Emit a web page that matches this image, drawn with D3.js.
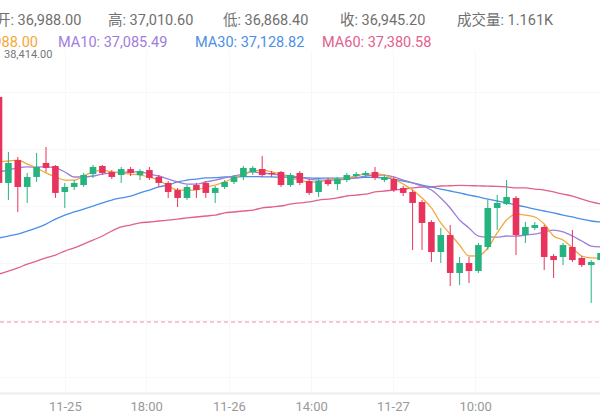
<!DOCTYPE html>
<html><head><meta charset="utf-8">
<script src="https://cdn.jsdelivr.net/npm/d3@7"></script>
<style>html,body{margin:0;padding:0;background:#fff;overflow:hidden}svg{display:block}</style>
</head><body><svg id="c" width="600" height="420"></svg>
<script>
// ---- data (price values) ----
const opens  = [38165,37546,37711,37517,37589,37690,37668,37481,37517,37531,37610,37668,37625,37603,37646,37603,37639,37589,37546,37495,37438,37531,37546,37474,37517,37553,37589,37625,37646,37618,37625,37531,37618,37560,37481,37567,37538,37567,37596,37603,37625,37567,37574,37510,37481,37409,37265,37049,37171,36898,36970,36912,37085,37366,37394,37438,37171,37222,37229,37020,37013,37085,37006,36955,36991];
const highs  = [38414,37769,37733,37618,37762,37805,37675,37546,37567,37618,37675,37675,37639,37661,37661,37646,37661,37603,37560,37510,37531,37546,37560,37524,37567,37603,37668,37668,37740,37632,37632,37618,37632,37574,37574,37582,37589,37618,37625,37632,37661,37603,37589,37524,37495,37423,37279,37222,37243,37013,37013,37114,37423,37459,37567,37452,37265,37265,37243,37034,37114,37207,37020,36991,37063];
const lows   = [37495,37423,37337,37402,37553,37625,37438,37366,37495,37517,37582,37603,37574,37546,37596,37567,37567,37517,37438,37373,37423,37438,37438,37402,37502,37538,37567,37603,37589,37589,37517,37517,37531,37459,37445,37524,37495,37552,37582,37589,37567,37553,37481,37452,37063,37063,36977,36970,36804,36811,36826,36898,37063,37207,37387,37027,37114,37207,36919,36862,36955,36977,36941,36682,36977];
const closes = [37546,37690,37517,37589,37661,37654,37474,37517,37546,37603,37661,37618,37589,37646,37618,37632,37582,37546,37481,37438,37517,37495,37474,37510,37553,37589,37654,37654,37603,37610,37531,37603,37546,37474,37560,37538,37574,37603,37610,37618,37582,37589,37495,37474,37402,37258,37049,37171,36898,36970,36912,37099,37366,37402,37445,37171,37229,37243,37013,36991,37099,36991,36955,36977,37042];
const ma5  = [37697,37704,37711,37682,37654,37618,37589,37567,37566,37596,37625,37639,37625,37618,37610,37603,37589,37567,37524,37495,37494,37496,37517,37531,37553,37582,37610,37632,37639,37625,37610,37582,37567,37553,37552,37567,37574,37582,37596,37610,37611,37603,37574,37538,37495,37438,37366,37258,37178,37099,37020,37021,37078,37186,37279,37322,37315,37301,37250,37164,37135,37078,37020,37006,37005];
const ma10 = [37625,37639,37654,37661,37660,37662,37654,37625,37589,37589,37596,37610,37618,37625,37624,37626,37610,37596,37574,37553,37538,37538,37553,37567,37582,37596,37610,37625,37618,37610,37603,37596,37589,37574,37567,37566,37568,37574,37582,37596,37603,37602,37589,37567,37546,37524,37495,37438,37366,37279,37222,37164,37157,37156,37164,37163,37171,37178,37193,37207,37193,37164,37128,37092,37085];
const ma30 = [37150,37164,37178,37200,37222,37250,37286,37315,37337,37358,37380,37402,37423,37438,37452,37474,37495,37517,37531,37553,37567,37574,37582,37584,37589,37590,37591,37592,37590,37589,37588,37587,37584,37582,37580,37581,37580,37582,37583,37586,37587,37582,37574,37560,37546,37531,37517,37502,37488,37474,37459,37445,37430,37416,37402,37387,37373,37358,37344,37330,37315,37301,37286,37272,37265];
const ma60 = [36890,36912,36934,36962,36984,37006,37027,37056,37078,37106,37135,37164,37200,37229,37243,37258,37265,37272,37279,37286,37294,37301,37308,37315,37330,37337,37344,37351,37366,37373,37380,37394,37402,37409,37423,37430,37438,37452,37459,37466,37481,37488,37495,37502,37510,37517,37517,37524,37526,37528,37527,37525,37523,37521,37517,37510,37510,37502,37495,37481,37466,37452,37430,37409,37394];
const tickPos    = [-1.7, 7.0, 15.65, 24.45, 33.2, 41.9, 50.65];
const tickLabels = ["22:00","11-25","18:00","11-26","14:00","11-27","10:00"];
const headNames  = ["开","高","低","收","成交量"];
const headValues = ["36,988.00","37,010.60","36,868.40","36,945.20","1.161K"];
const maNames    = ["MA5","MA10","MA30","MA60"];
const maValues   = ["36,988.00","37,085.49","37,128.82","37,380.58"];
const maxPrice   = 38414.00;
const markPrice  = 36545;

// ---- drawing ----
const svg = d3.select("#c");
const W = 600;
const x = d3.scaleLinear().domain([0, 64]).range([-1, 600.6]);
const y = d3.scaleLinear().domain([36034, 38467]).range([393, 55]);
const UP = "#25b37f", DOWN = "#e8345c";
const maColors = ["#f5a83a", "#a07ddc", "#4b8fe6", "#e2608e"];
const FONT = "Roboto, 'Noto Sans CJK SC', sans-serif";

// grid
const gridY = [36150, 36560, 36970, 37380, 37790, 38200];
svg.append("g").selectAll("line").data(gridY).join("line")
  .attr("x1", 0).attr("x2", W)
  .attr("y1", d => Math.round(y(d)) + 0.5).attr("y2", d => Math.round(y(d)) + 0.5)
  .attr("stroke", "#f8f8f8");
svg.append("g").selectAll("line").data(tickPos).join("line")
  .attr("x1", d => Math.round(x(d)) + 0.5).attr("x2", d => Math.round(x(d)) + 0.5)
  .attr("y1", 50).attr("y2", 393)
  .attr("stroke", "#f8f8f8");

// dashed price line
svg.append("line")
  .attr("x1", 0).attr("x2", W)
  .attr("y1", y(markPrice)).attr("y2", y(markPrice))
  .attr("stroke", "#ee8ea4").attr("stroke-width", 1.2)
  .attr("stroke-dasharray", "4,3");

// MA lines
[ma60, ma30, ma10, ma5].forEach((arr, k) => {
  const col = maColors[3 - k];
  svg.append("path").datum(arr)
    .attr("fill", "none").attr("stroke", col).attr("stroke-width", 1.3)
    .attr("d", d3.line().x((d, i) => x(i)).y(d => y(d)).curve(d3.curveMonotoneX));
});

// candles
const data = opens.map((o, i) => ({ i, o, h: highs[i], l: lows[i], c: closes[i] }));
const bw = 6.6;
const g = svg.append("g");
const cg = g.selectAll("g").data(data).join("g");
cg.append("line")
  .attr("x1", d => x(d.i)).attr("x2", d => x(d.i))
  .attr("y1", d => y(d.h)).attr("y2", d => y(d.l))
  .attr("stroke", d => d.c >= d.o ? UP : DOWN).attr("stroke-width", 1);
cg.append("rect")
  .attr("x", d => x(d.i) - bw / 2)
  .attr("y", d => y(Math.max(d.o, d.c)))
  .attr("width", bw)
  .attr("height", d => Math.max(1, Math.abs(y(d.o) - y(d.c))))
  .attr("fill", d => d.c >= d.o ? UP : DOWN);

// max price marker
svg.append("text").attr("x", 4).attr("y", y(maxPrice) - 4)
  .attr("font-family", FONT).attr("font-size", 11).attr("fill", "#777")
  .text(d3.format(",.2f")(maxPrice));

// x axis
const ax = svg.append("g").attr("transform", "translate(0,393)")
  .call(d3.axisBottom(x).tickValues(tickPos).tickFormat((d, i) => tickLabels[i]).tickSize(0).tickPadding(9));
ax.select(".domain").attr("stroke", "#ececec").attr("stroke-width", 2);
ax.selectAll("text").attr("font-family", FONT).attr("font-size", 13).attr("fill", "#999");

// header row 1
const hx = [-4, 108, 223, 340, 457];
svg.append("g").selectAll("text").data(headNames).join("text")
  .attr("x", (d, i) => hx[i]).attr("y", 25)
  .attr("font-family", FONT).attr("font-size", 14.5).attr("fill", "#6f6f6f")
  .text((d, i) => d + ": " + headValues[i]);

// header row 2
const mx = [38, 58, 195, 322];
svg.append("g").selectAll("text").data(maNames).join("text")
  .attr("x", (d, i) => mx[i]).attr("y", 47)
  .attr("text-anchor", (d, i) => i === 0 ? "end" : "start")
  .attr("font-family", FONT).attr("font-size", 14.5)
  .attr("fill", (d, i) => maColors[i])
  .text((d, i) => d + ": " + maValues[i]);
</script></body></html>
